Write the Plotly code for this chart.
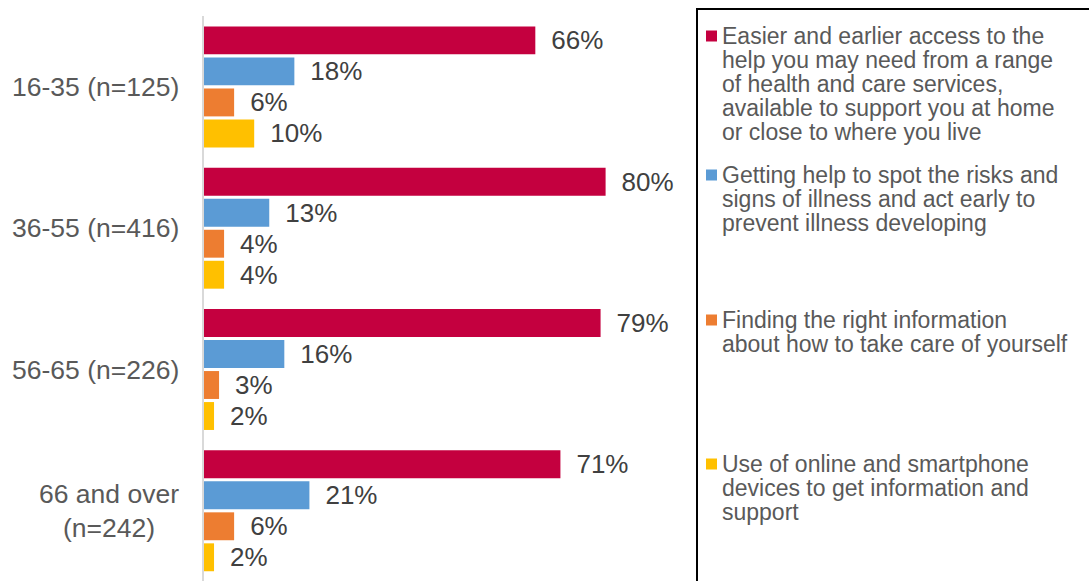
import plotly.graph_objects as go

# ---------------- data ----------------
categories = ["16-35 (n=125)", "36-55 (n=416)", "56-65 (n=226)", "66 and over<br>(n=242)"]
series_names = [
    "Easier and earlier access to the<br>help you may need from a range<br>of health and care services,<br>available to support you at home<br>or close to where you live",
    "Getting help to spot the risks and<br>signs of illness and act early to<br>prevent illness developing",
    "Finding the right information<br>about how to take care of yourself",
    "Use of online and smartphone<br>devices to get information and<br>support",
]
easier_access = [66, 80, 79, 71]
spot_risks = [18, 13, 16, 21]
right_information = [6, 4, 3, 6]
online_devices = [10, 4, 2, 2]
series_values = [easier_access, spot_risks, right_information, online_devices]

# ---------------- style ----------------
colors = ["#C4003F", "#5B9BD5", "#ED7D31", "#FFC000"]
FONT = "Liberation Sans, Arial, sans-serif"
W, H = 1089, 581
ML, MR, MT, MB = 204, 392, 16, 0
PW, PH = W - ML - MR, H - MT - MB


def px_x(px):
    return (px - ML) / PW


def px_y(py):
    return (H - MB - py) / PH


fig = go.Figure()
for name, vals, col in zip(series_names, series_values, colors):
    fig.add_trace(go.Bar(
        y=categories, x=vals, orientation="h", name=name,
        marker=dict(color=col, line=dict(width=0)),
        texttemplate="\u2002%{x}%", textposition="outside",
        textfont=dict(family=FONT, size=26, color="#404040"),
        constraintext="none", cliponaxis=False, showlegend=False,
        hoverinfo="skip",
    ))

annotations = []
# category labels
for c in categories:
    annotations.append(dict(
        x=0, xref="paper", y=c, yref="y", text=c, showarrow=False,
        xanchor="right", yanchor="middle", align="center", xshift=-23,
        font=dict(family=FONT, size=26.5, color="#595959"),
    ))

shapes = []
# legend box
shapes.append(dict(type="rect", xref="paper", yref="paper",
                   x0=px_x(697), x1=px_x(1100), y0=px_y(600), y1=px_y(9),
                   line=dict(color="#000000", width=2), fillcolor="rgba(0,0,0,0)"))
item_first_line = [36, 175, 320, 464]
pitch = 24
for name, col, y0 in zip(series_names, colors, item_first_line):
    shapes.append(dict(type="rect", xref="paper", yref="paper",
                       x0=px_x(706), x1=px_x(717), y0=px_y(y0 + 5.5), y1=px_y(y0 - 5.5),
                       line=dict(width=0), fillcolor=col))
    for i, line in enumerate(name.split("<br>")):
        annotations.append(dict(
            x=px_x(720), xref="paper", y=px_y(y0 + i * pitch), yref="paper",
            text=line, showarrow=False, xanchor="left", yanchor="middle",
            font=dict(family=FONT, size=23, color="#595959"),
        ))

fig.update_layout(
    width=W, height=H,
    margin=dict(l=ML, r=MR, t=MT, b=MB, pad=0),
    paper_bgcolor="white", plot_bgcolor="white",
    barmode="group", bargap=0.122, bargroupgap=0.1,
    showlegend=False,
    xaxis=dict(range=[0, PW / 5.02], visible=False, fixedrange=True),
    yaxis=dict(range=[3.497, -0.502], showticklabels=False, ticks="",
               showgrid=False, zeroline=False, showline=True,
               linecolor="#D9D9D9", linewidth=2, fixedrange=True),
    annotations=annotations, shapes=shapes,
    font=dict(family=FONT),
)

fig.write_html(
    "out.html",
    config={"displayModeBar": False, "staticPlot": True},
    post_script="document.body.style.margin='0';document.body.style.overflow='hidden';",
)
